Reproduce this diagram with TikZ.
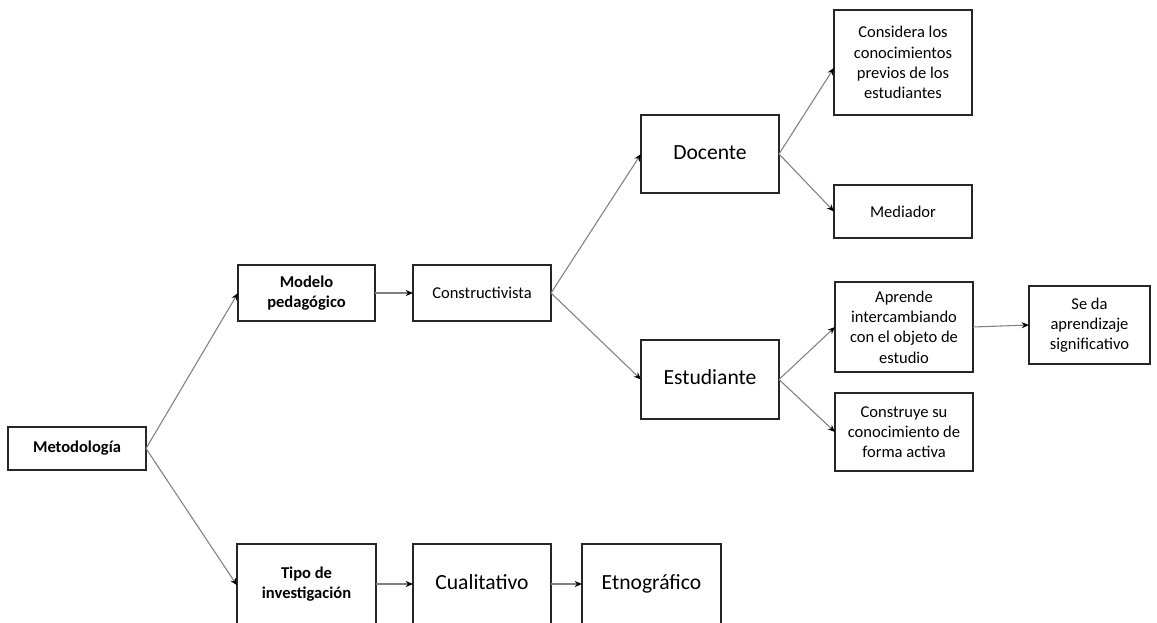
\documentclass[tikz,border=0pt]{standalone}
\usepackage{fontspec}
\setmainfont{Carlito}
\usetikzlibrary{arrows.meta}
\tikzset{
  box/.style={draw=black!85, line width=1.1pt, align=center, inner sep=2pt, outer sep=0pt,
    font=\fontsize{12.4}{15.2}\selectfont},
  big/.style={font=\fontsize{16.2}{19.5}\selectfont, text height=11.5pt, text depth=3.5pt},
  strong/.style={font=\fontsize{12.4}{15.2}\selectfont\bfseries},
  sz/.style 2 args={minimum width=#1*0.75pt, minimum height=#2*0.75pt},
  conn/.style={draw=black!50, line width=0.8pt, -{Stealth[length=5.5pt,width=4.5pt,color=black]}}
}
\begin{document}
\begin{tikzpicture}[x=0.75pt, y=-0.75pt]
\useasboundingbox (0,0) rectangle (1157,622);
% root and first level
\node[box, strong, sz={138}{43}] (meto) at (77,448.5) {Metodología};
\node[box, strong, sz={137}{56}] (modelo) at (306.5,293) {Modelo\\pedagógico};
\node[box, sz={138}{56}] (constr) at (482,293) {Constructivista};
% actors of the constructivist model
\node[box, big, sz={138}{78}] (docente) at (710,154) {Docente};
\node[box, big, sz={138}{79}] (estud) at (710,379.5) {Estudiante};
\node[box, sz={138}{105}] (considera) at (903,62.5) {Considera los\\conocimientos\\previos de los\\estudiantes};
\node[box, sz={138}{53}] (mediador) at (903,211.5) {Mediador};
\node[box, sz={138}{90}] (aprende) at (904,327) {Aprende\\intercambiando\\con el objeto de\\estudio};
\node[box, sz={138}{78}] (construye) at (904,432) {Construye su\\conocimiento de\\forma activa};
\node[box, sz={121}{78}] (seda) at (1089.5,325) {Se da\\aprendizaje\\significativo};
% research type branch
\node[box, strong, sz={139}{80}] (tipo) at (306.5,584) {Tipo de\\investigación};
\node[box, big, sz={138}{80}] (cuali) at (482,584) {Cualitativo};
\node[box, big, sz={139}{80}] (etno) at (651.5,584) {Etnográfico};
% connectors
\draw[conn] (meto.east) -- (modelo.west);
\draw[conn] (meto.east) -- ([yshift=-1pt]tipo.west);
\draw[conn] (modelo.east) -- (constr.west);
\draw[conn] (constr.east) -- (docente.west);
\draw[conn] (constr.east) -- (estud.west);
\draw[conn] (docente.east) -- ([yshift=-4pt]considera.west);
\draw[conn] (docente.east) -- (mediador.west);
\draw[conn] (estud.east) -- (aprende.west);
\draw[conn] (estud.east) -- (construye.west);
\draw[conn] (aprende.east) -- (seda.west);
\draw[conn] (tipo.east) -- (cuali.west);
\draw[conn] (cuali.east) -- (etno.west);
\end{tikzpicture}
\end{document}
